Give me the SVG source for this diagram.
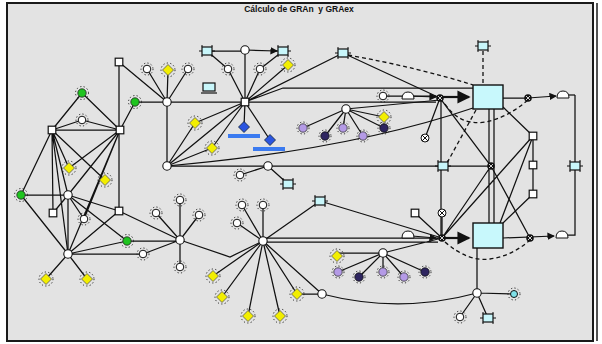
<svg xmlns="http://www.w3.org/2000/svg" xmlns:xlink="http://www.w3.org/1999/xlink" width="602" height="344" viewBox="0 0 602 344">
<style>
.e{stroke:#111;stroke-width:1.25;fill:none}
.d{stroke:#111;stroke-width:1.3;fill:none;stroke-dasharray:4 3}
.p{stroke:#111;stroke-width:2.2;fill:none}
.ring{fill:none;stroke:#222;stroke-width:1;stroke-dasharray:1.2 2.3}
.t{font-family:"Liberation Sans",Arial,sans-serif;font-weight:bold;font-size:8.5px;fill:#111;white-space:pre}
</style>
<defs>
<marker id="ar" viewBox="0 0 8 8" refX="7" refY="4" markerWidth="6" markerHeight="6" orient="auto"><path d="M0,0L8,4L0,8Z" fill="#111"/></marker>
<g id="hub"><circle r="4.2" fill="#fff" stroke="#111" stroke-width="1.1"/></g>
<g id="sq"><rect x="-3.8" y="-3.8" width="7.6" height="7.6" fill="#fff" stroke="#111" stroke-width="1.2"/></g>
<g id="star"><circle r="6" class="ring"/><circle r="3.8" fill="#fff" stroke="#111" stroke-width="1"/></g>
<g id="yel"><circle r="7" class="ring"/><path d="M0,-5.5L5.5,0L0,5.5L-5.5,0Z" fill="#f2ee00" stroke="#555" stroke-width="0.8"/></g>
<g id="grn"><circle r="6.5" class="ring"/><circle r="4.2" fill="#1fc41f" stroke="#222" stroke-width="0.8"/></g>
<g id="pur"><circle r="6" class="ring"/><circle r="4.2" fill="#b49ae6" stroke="#333" stroke-width="0.8"/></g>
<g id="dpur"><circle r="6" class="ring"/><circle r="4.2" fill="#2e2560" stroke="#111" stroke-width="0.8"/></g>
<g id="blu"><path d="M0,-5.5L5.5,0L0,5.5L-5.5,0Z" fill="#2a55e0" stroke="#123" stroke-width="0.8"/></g>
<g id="cy"><path d="M-8,0H-5M5,0H8M-5,-6V-4M5,-6V-4M-5,4V6M5,4V6" stroke="#111" stroke-width="1"/><rect x="-5" y="-4" width="10" height="8" fill="#c8f6fa" stroke="#111" stroke-width="1.2"/></g>
<g id="junc"><circle r="3.8" fill="#111"/><path d="M-2,-2L2,2M2,-2L-2,2" stroke="#fff" stroke-width="0.8"/></g>
<g id="cloud"><path d="M-6,3Q-6,-4 0,-4Q6,-4 6,3Z" fill="#fff" stroke="#111" stroke-width="1"/></g>
<g id="xc"><circle r="4" fill="#fff" stroke="#111" stroke-width="1"/><path d="M-3,-3L3,3M3,-3L-3,3" stroke="#111" stroke-width="1"/></g>
</defs>
<rect x="0" y="0" width="602" height="344" fill="#fff"/>
<rect x="7" y="3" width="586" height="338" fill="#e3e3e3" stroke="#1a1a1a" stroke-width="2"/>
<line x1="597" y1="3" x2="597" y2="341" stroke="#1a1a1a" stroke-width="1.5"/>
<text class="t" x="299" y="12" text-anchor="middle" xml:space="preserve">Cálculo de GRAn  y GRAex</text>

<g id="connectors">
<path class="e" d="M119,62V211M119,62L167,102M52,130H120M82,93L52,130M82,93L120,130M82,120L52,130M82,120L120,130M135,102L120,130M135,102H167M147,69L167,102M168,70L167,102M188,69L167,102"/>
<path class="e" d="M167,102H436M167,102V166M167,166L195,123M167,166L212,148M167,166L245,102M195,123L245,102M212,148L245,102M167,166H268"/>
<path class="e" d="M52,130L21,195M52,130L53,213M52,130L69,168M52,130L105,180M52,130L68,195M52,130L68,254M120,130L68,195M120,130L69,168M120,130L68,254M120,130L84,219"/>
<path class="e" d="M21,195H68M21,195L68,254M68,195L53,213M68,195L84,219M68,195L127,241M68,195V254M68,195L119,211M68,254L46,279M68,254L87,279M68,254H143M68,254L119,211M68,254L127,241"/>
<path class="e" d="M119,211L180,240M127,241H180M143,254L180,240M180,200V267M156,213L180,240M199,215L180,240M180,240L230,257L263,241"/>
<path class="e" d="M207,51H245M245,50V102M207,51L228,69M283,51L260,69M228,69L245,102M260,69L245,102M288,65L245,102M245,102L343,53M245,102L283,88H473M245,102L244,127M245,102L270,140"/>
<line class="e" x1="245" y1="50" x2="277" y2="51" marker-end="url(#ar)"/>
<path class="e" d="M268,166L240,175M268,166L288,184M268,166H491M167,166Q350,150 473,108"/>
<path class="e" d="M343,53L440,98M346,109L303,128M346,109L325,136M346,109L343,128M346,109L363,136M346,109L384,128M346,109L384,117M346,109L440,100"/>
<path class="d" d="M348,55Q420,68 473,85"/>
<path class="e" d="M383,96H436M440,98L425,138M441,98V238M440,98L491,166L530,238"/>
<line class="e" x1="408" y1="96" x2="436" y2="97" marker-end="url(#ar)"/>
<line class="p" x1="440" y1="97" x2="469" y2="97" marker-end="url(#ar)"/>
<path class="d" d="M445,104Q460,126 485,122Q507,118 528,100"/>
<path class="d" d="M476,110L447,163"/>
<path class="d" d="M483,51V85"/>
<path class="e" d="M503,98H528M575,95V235H568M489,109V223M494,109V223M503,107L533,136M533,136V194M533,136L500,223M533,194L503,223M442,238L533,136M491,166L442,238"/>
<line class="e" x1="528" y1="98" x2="556" y2="96" marker-end="url(#ar)"/>
<path class="e" d="M569,95H575"/>
<line class="p" x1="442" y1="238" x2="469" y2="238" marker-end="url(#ar)"/>
<line class="e" x1="503" y1="238" x2="554" y2="236" marker-end="url(#ar)"/>
<path class="e" d="M477,248V293M477,293L460,317M477,293L488,318M477,293L514,294M322,294Q400,314 477,293M322,294H297M263,241L322,294"/>
<path class="e" d="M263,241L242,205M263,241L263,205M263,241L237,223M263,241L320,201M263,241L213,276M263,241L222,297M263,241L248,316M263,241L280,316M263,241L297,294"/>
<path class="e" d="M263,238H438M263,242H438M320,201L442,238M415,213L442,238M442,213V238M383,253L442,238"/>
<line class="e" x1="412" y1="236" x2="436" y2="238" marker-end="url(#ar)"/>
<path class="e" d="M383,253H337M383,253L338,272M383,253L359,277M383,253V272M383,253L404,277M383,253L425,272"/>
<path class="d" d="M445,242Q468,262 490,259Q512,256 530,240"/>
</g>

<g id="n1"><use href="#sq" x="119" y="62"/></g>
<g id="n2"><use href="#sq" x="52" y="130"/></g>
<g id="n3"><use href="#sq" x="120" y="130"/></g>
<g id="n4"><use href="#grn" x="82" y="93"/></g>
<g id="n5"><use href="#star" x="82" y="120"/></g>
<g id="n6"><use href="#grn" x="135" y="102"/></g>
<g id="n7"><use href="#star" x="147" y="69"/></g>
<g id="n8"><use href="#yel" x="168" y="70"/></g>
<g id="n9"><use href="#star" x="188" y="69"/></g>
<g id="n10"><use href="#hub" x="167" y="102"/></g>
<g id="n11"><use href="#yel" x="195" y="123"/></g>
<g id="n12"><use href="#yel" x="212" y="148"/></g>
<g id="n13"><use href="#hub" x="167" y="166"/></g>
<g id="n14"><use href="#yel" x="69" y="168"/></g>
<g id="n15"><use href="#yel" x="105" y="180"/></g>
<g id="n16"><use href="#grn" x="21" y="195"/></g>
<g id="n17"><use href="#hub" x="68" y="195"/></g>
<g id="n18"><use href="#sq" x="53" y="213"/></g>
<g id="n19"><use href="#star" x="84" y="219"/></g>
<g id="n20"><use href="#sq" x="119" y="211"/></g>
<g id="n21"><use href="#grn" x="127" y="241"/></g>
<g id="n22"><use href="#hub" x="68" y="254"/></g>
<g id="n23"><use href="#star" x="143" y="254"/></g>
<g id="n24"><use href="#yel" x="46" y="279"/></g>
<g id="n25"><use href="#yel" x="87" y="279"/></g>
<g id="n26"><use href="#star" x="180" y="200"/></g>
<g id="n27"><use href="#star" x="156" y="213"/></g>
<g id="n28"><use href="#star" x="199" y="215"/></g>
<g id="n29"><use href="#hub" x="180" y="240"/></g>
<g id="n30"><use href="#star" x="180" y="267"/></g>
<g id="n31"><use href="#cy" x="207" y="51"/></g>
<g id="n32"><use href="#hub" x="245" y="50"/></g>
<g id="n33"><use href="#cy" x="283" y="51"/></g>
<g id="n34"><use href="#star" x="228" y="69"/></g>
<g id="n35"><use href="#star" x="260" y="69"/></g>
<g id="n36"><use href="#yel" x="288" y="65"/></g>
<g id="n37"><rect x="203" y="83" width="12" height="8" fill="#c8f6fa" stroke="#111" stroke-width="1.2"/><path d="M201,93H217" stroke="#111" stroke-width="1.2"/></g>
<g id="n38"><use href="#sq" x="245" y="102"/></g>
<g id="n39"><use href="#blu" x="244" y="127"/><rect x="228" y="134" width="32" height="4" fill="#3a7af0"/></g>
<g id="n40"><use href="#blu" x="270" y="140"/><rect x="253" y="147" width="32" height="4" fill="#3a7af0"/></g>
<g id="n41"><use href="#hub" x="268" y="166"/></g>
<g id="n42"><use href="#star" x="240" y="175"/></g>
<g id="n43"><use href="#cy" x="288" y="184"/></g>
<g id="n44"><use href="#cy" x="343" y="53"/></g>
<g id="n45"><use href="#hub" x="346" y="109"/></g>
<g id="n46"><use href="#pur" x="303" y="128"/></g>
<g id="n47"><use href="#dpur" x="325" y="136"/></g>
<g id="n48"><use href="#pur" x="343" y="128"/></g>
<g id="n49"><use href="#pur" x="363" y="136"/></g>
<g id="n50"><use href="#dpur" x="384" y="128"/></g>
<g id="n51"><use href="#yel" x="384" y="117"/></g>
<g id="n52"><use href="#star" x="383" y="96"/></g>
<g id="n53"><use href="#cloud" x="408" y="96"/></g>
<g id="n54"><use href="#junc" x="440" y="98"/></g>
<g id="n55"><use href="#xc" x="425" y="138"/></g>
<g id="n56"><use href="#cy" x="443" y="166"/></g>
<g id="n57"><rect x="473" y="85" width="30" height="24" fill="#c8f8fc" stroke="#111" stroke-width="1.4"/></g>
<g id="n58"><use href="#cy" x="483" y="46"/></g>
<g id="n59"><use href="#junc" x="528" y="98"/></g>
<g id="n60"><use href="#cloud" x="563" y="95"/></g>
<g id="n61"><use href="#sq" x="533" y="136"/></g>
<g id="n62"><use href="#sq" x="533" y="165"/></g>
<g id="n63"><use href="#sq" x="533" y="194"/></g>
<g id="n64"><use href="#junc" x="491" y="166"/></g>
<g id="n65"><use href="#cy" x="575" y="166"/></g>
<g id="n66"><rect x="473" y="223" width="30" height="25" fill="#c8f8fc" stroke="#111" stroke-width="1.4"/></g>
<g id="n67"><use href="#junc" x="530" y="238"/></g>
<g id="n68"><use href="#cloud" x="562" y="235"/></g>
<g id="n69"><use href="#junc" x="442" y="238"/></g>
<g id="n70"><use href="#sq" x="415" y="213"/></g>
<g id="n71"><use href="#xc" x="442" y="213"/></g>
<g id="n72"><use href="#cloud" x="408" y="235"/></g>
<g id="n73"><use href="#cy" x="320" y="201"/></g>
<g id="n74"><use href="#hub" x="383" y="253"/></g>
<g id="n75"><use href="#yel" x="337" y="256"/></g>
<g id="n76"><use href="#pur" x="338" y="272"/></g>
<g id="n77"><use href="#dpur" x="359" y="277"/></g>
<g id="n78"><use href="#pur" x="383" y="272"/></g>
<g id="n79"><use href="#pur" x="404" y="277"/></g>
<g id="n80"><use href="#dpur" x="425" y="272"/></g>
<g id="n81"><use href="#hub" x="322" y="294"/></g>
<g id="n82"><use href="#hub" x="477" y="293"/></g>
<g id="n83"><use href="#star" x="460" y="317"/></g>
<g id="n84"><use href="#cy" x="488" y="318"/></g>
<g id="n85"><circle cx="514" cy="294" r="6" class="ring"/><circle cx="514" cy="294" r="3.5" fill="#7fe0e8" stroke="#111"/></g>
<g id="n86"><use href="#hub" x="263" y="241"/></g>
<g id="n87"><use href="#star" x="242" y="205"/></g>
<g id="n88"><use href="#star" x="263" y="205"/></g>
<g id="n89"><use href="#star" x="237" y="223"/></g>
<g id="n90"><use href="#yel" x="213" y="276"/></g>
<g id="n91"><use href="#yel" x="222" y="297"/></g>
<g id="n92"><use href="#yel" x="248" y="316"/></g>
<g id="n93"><use href="#yel" x="280" y="316"/></g>
<g id="n94"><use href="#yel" x="297" y="294"/></g>
</svg>
